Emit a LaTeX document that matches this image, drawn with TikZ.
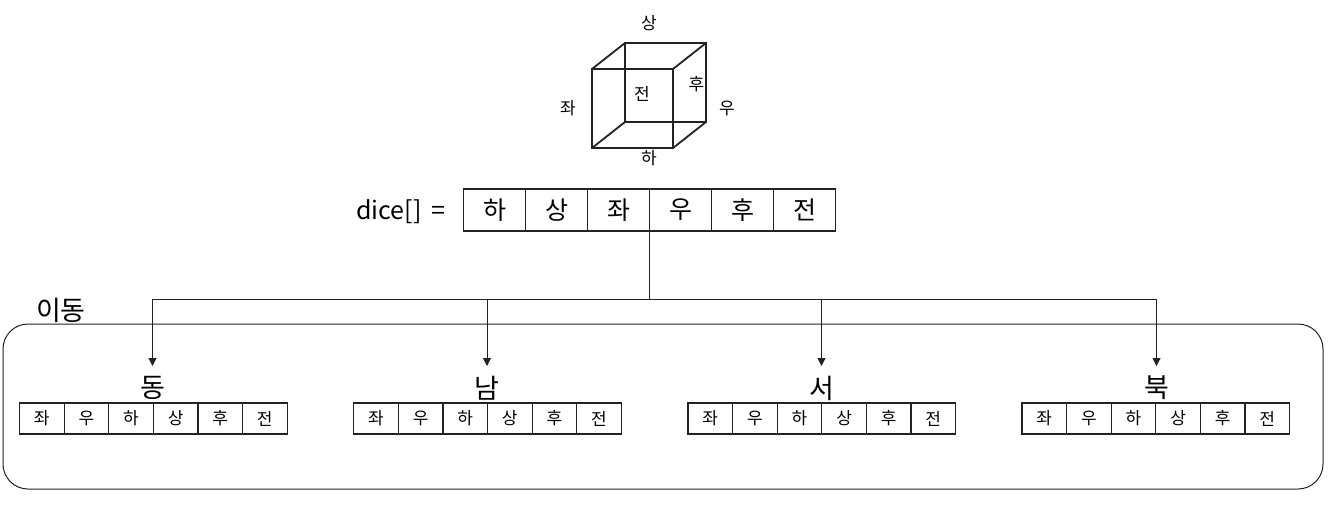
\documentclass[tikz,border=0pt]{standalone}
\usepackage{fontspec}
\setmainfont{Noto Sans CJK KR}
\usetikzlibrary{arrows.meta}
\definecolor{ln}{HTML}{222222}
\tikzset{
  bigcell/.style={draw=ln,line width=1.2pt,outer sep=0pt,minimum width=62pt,minimum height=42pt,inner sep=0pt,font=\fontsize{25}{25}\selectfont,text=black},
  smallcell/.style={draw=ln,line width=1.2pt,outer sep=0pt,minimum width=44.6pt,minimum height=31pt,inner sep=0pt,font=\fontsize{17}{17}\selectfont,text=black},
  titlenode/.style={minimum width=40pt,minimum height=44pt,inner sep=0pt,outer sep=0pt,font=\fontsize{27}{27}\selectfont},
  lab/.style={inner sep=0pt,font=\fontsize{17}{17}\selectfont},
  conn/.style={draw=ln,line width=1pt},
  arr/.style={conn,-{Triangle[length=8pt,width=8pt]}},
  cube/.style={draw=ln,line width=1.8pt,line join=miter},
}
\begin{document}
\begin{tikzpicture}[x=1pt,y=-1pt]
\useasboundingbox (0,0) rectangle (1339,523);
\fill[white] (0,0) rectangle (1339,523);
% cube
\coordinate (fa) at (592,69);\coordinate (fb) at (673,69);\coordinate (fc) at (673,148);\coordinate (fd) at (592,148);
\coordinate (ba) at (625,43);\coordinate (bb) at (706,43);\coordinate (bc) at (706,122);\coordinate (bd) at (625,122);
\draw[cube] (fa) -- (fb) -- (fc) -- (fd) -- cycle;
\draw[cube] (ba) -- (bb) -- (bc) -- (bd) -- cycle;
\draw[cube] (fa) -- (ba) (fb) -- (bb) (fc) -- (bc) (fd) -- (bd);
\node[lab] (up) at (649,23) {상};
\node[lab] (left) at (568,108) {좌};
\node[lab] (front) at (642,94) {전};
\node[lab] (back) at (696.5,84) {후};
\node[lab] (right) at (727,108) {우};
\node[lab] (down) at (649,158) {하};
% top array
\node[font=\fontsize{25}{25}\selectfont,anchor=west,inner sep=0pt] (dice) at (356,212) {dice[]\hspace{10pt}=};
\foreach \i/\t in {1/하,2/상,3/좌,4/우,5/후,6/전}{
  \node[bigcell] (t\i) at ({463.5+62*(\i-0.5)},210) {\t};
}
% group box
\draw[draw=ln,line width=1pt,rounded corners=25pt] (3,324) rectangle (1323,489);
\node[font=\fontsize{27}{27}\selectfont,inner sep=0pt] (move) at (61,310) {이동};
% groups
\foreach \g/\x/\cx/\name in {a/19.5/152.5/동,b/353.7/487/남,c/688/821.5/서,d/1022/1156.5/북}{
  \node[titlenode] (\g) at (\cx,388) {\name};
  \foreach \i/\t in {1/좌,2/우,3/하,4/상,5/후,6/전}{
    \node[smallcell] (\g\i) at ({\x+44.6*(\i-0.5)},418.5) {\t};
  }
}
% connectors
\coordinate (trunk) at (t4.south west);
\draw[conn] (trunk) -- ++(0,68) coordinate (hub);
\draw[arr] (hub) -| (a.north);
\draw[arr] (hub) -| (b.north);
\draw[arr] (hub) -| (c.north);
\draw[arr] (hub) -| (d.north);
\end{tikzpicture}
\end{document}
